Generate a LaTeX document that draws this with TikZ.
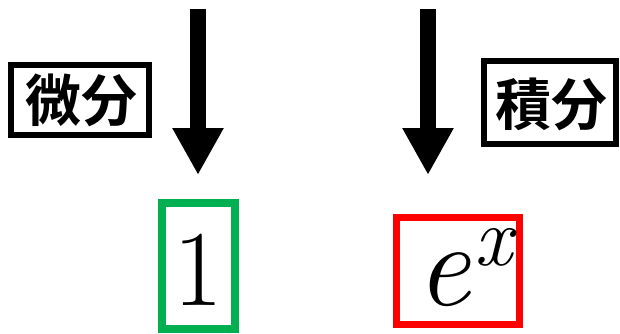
\documentclass[tikz,border=0pt]{standalone}
\usepackage{fontspec}
\newfontfamily\cjkbold{Noto Sans CJK JP Bold}
\usetikzlibrary{arrows.meta}
\definecolor{boxgreen}{RGB}{0,176,80}
\definecolor{boxred}{RGB}{255,0,0}
\tikzset{
  bigarrow/.style={line width=16pt, line cap=butt, -{Triangle[width=48pt,length=47pt]}},
  labelbox/.style={draw=black, line width=6pt},
  labeltext/.style={inner sep=0pt, font=\cjkbold\fontsize{56}{60}\selectfont},
  valbox/.style={line width=7.5pt},
}
\begin{document}
\begin{tikzpicture}[x=1pt,y=-1pt]
\useasboundingbox (0,0) rectangle (620,334);
% label boxes
\draw[labelbox] (11,65) rectangle (149,135);
\node[labeltext] (diff) at (81.5,100) {微分};
\draw[labelbox] (484,61) rectangle (616,144);
\node[labeltext] (integ) at (551.5,104) {積分};
% arrows
\coordinate (a1top) at (198,9);
\coordinate (a1tip) at (198,175);
\coordinate (a2top) at (428,9);
\coordinate (a2tip) at (428,175);
\draw[bigarrow] (a1top) -- (a1tip);
\draw[bigarrow] (a2top) -- (a2tip);
% value boxes
\draw[valbox, draw=boxgreen] (162,203) rectangle (235,329);
\node[inner sep=0pt, anchor=base] (one) at (198.5,305) {\fontsize{108}{110}\selectfont 1};
\draw[valbox, draw=boxred] (396.5,217.5) rectangle (519.5,324.5);
\node[inner sep=0pt, anchor=base] (ex) at (464,305) {{\fontsize{120}{122}\selectfont\itshape e}\kern4pt\raisebox{40pt}{\fontsize{84}{86}\selectfont\itshape x}};
\end{tikzpicture}
\end{document}
